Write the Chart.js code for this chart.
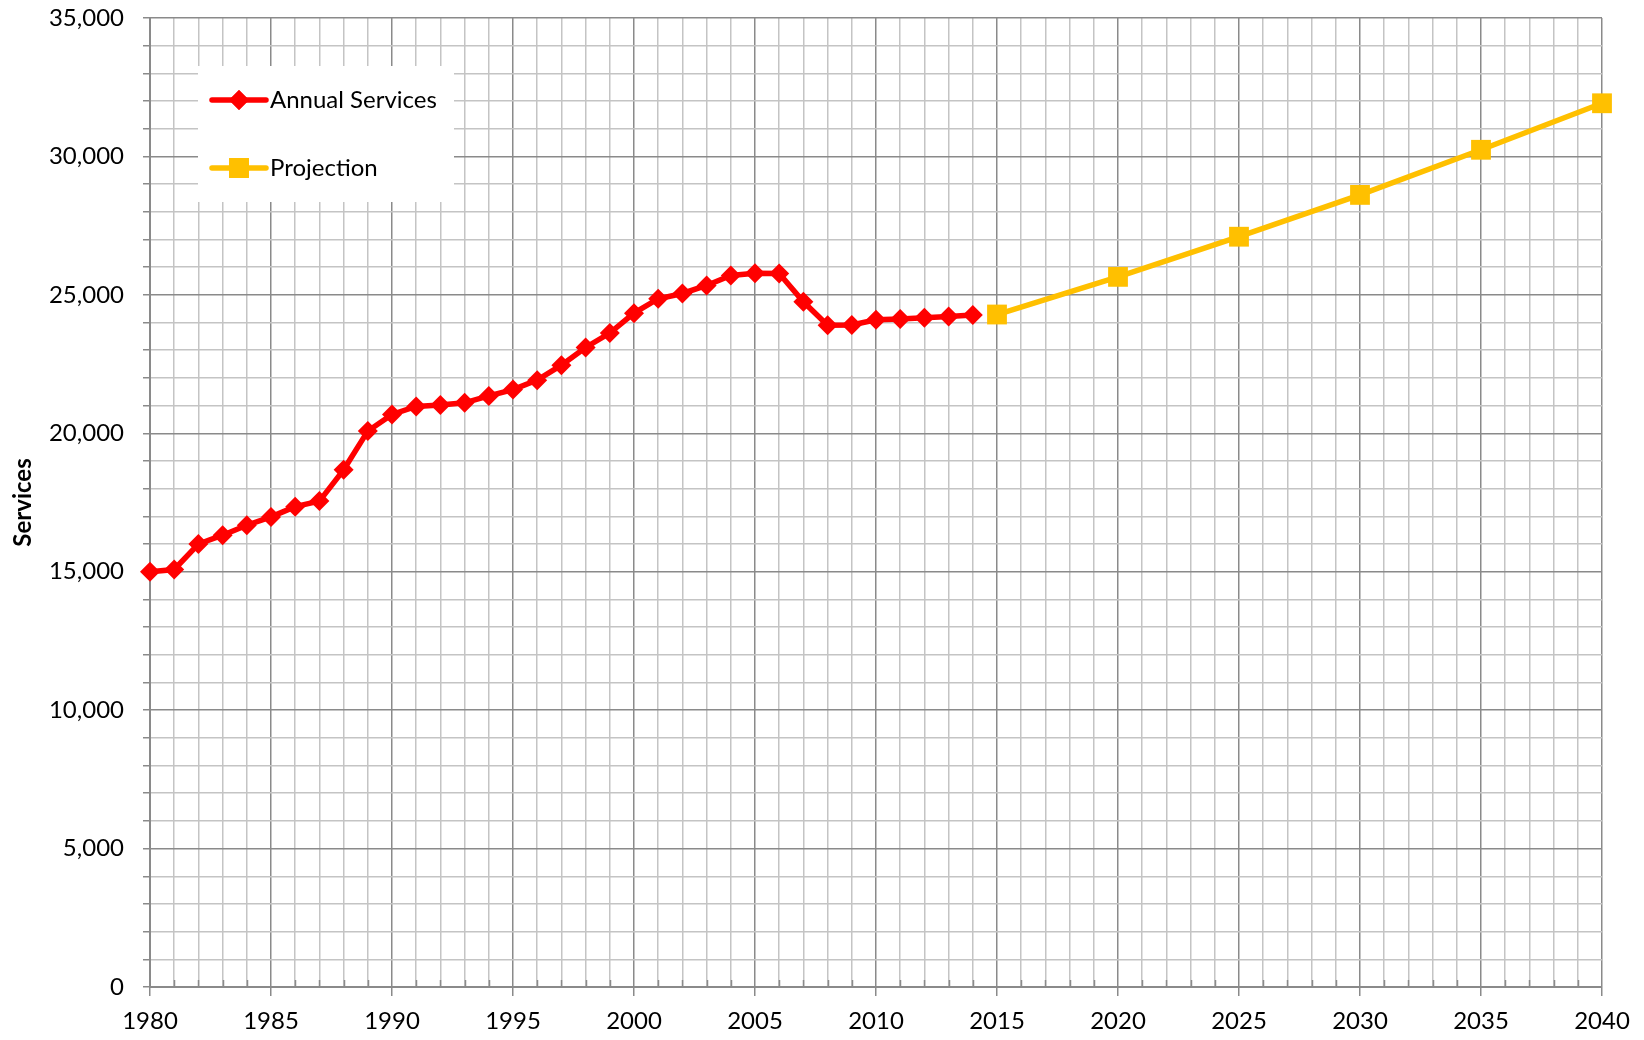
<!DOCTYPE html>
<html>
<head>
<meta charset="utf-8">
<script src="https://cdn.jsdelivr.net/npm/chart.js@4.4.1/dist/chart.umd.min.js"></script>
<style>
    html, body { margin: 0; padding: 0; background: #fff; }
    #wrap { width: 1644px; height: 1040px; }
</style>
</head>
<body>
<div id="wrap"><canvas id="servicesChart" width="1644" height="1040"></canvas></div>
<script>
// Annual services 1980-2014
const serviceYears = [1980, 1981, 1982, 1983, 1984, 1985, 1986, 1987, 1988, 1989,
    1990, 1991, 1992, 1993, 1994, 1995, 1996, 1997, 1998, 1999,
    2000, 2001, 2002, 2003, 2004, 2005, 2006, 2007, 2008, 2009,
    2010, 2011, 2012, 2013, 2014];
const serviceValues = [15000, 15080, 16000, 16320, 16680, 16980, 17350, 17550, 18680, 20080,
    20680, 20970, 21020, 21100, 21350, 21580, 21920, 22460, 23100, 23620,
    24340, 24860, 25050, 25340, 25700, 25780, 25770, 24750, 23900, 23910,
    24100, 24130, 24170, 24220, 24270];

// Projection every 5 years
const projectionYears = [2015, 2020, 2025, 2030, 2035, 2040];
const projectionValues = [24290, 25650, 27100, 28610, 30240, 31920];

// Labelled ticks
const xTickLabels = [1980, 1985, 1990, 1995, 2000, 2005, 2010, 2015, 2020, 2025, 2030, 2035, 2040];
const yTickLabels = [0, 5000, 10000, 15000, 20000, 25000, 30000, 35000];

const FONT = 'Lato, "Open Sans", sans-serif';
const RED = '#ff0000';
const GOLD = '#ffc000';
const MINOR = '#c4c4c4';
const MAJOR = '#8a8a8a';

// Legend box drawn under the lines, plus the little inside ticks on the x axis
const legendAndTicks = {
    id: 'legendAndTicks',
    beforeDatasetsDraw(chart) {
        const ctx = chart.ctx;
        const x = chart.scales.x;
        const area = chart.chartArea;
        ctx.save();

        // minor ticks pointing up into the plot
        ctx.strokeStyle = MAJOR;
        ctx.lineWidth = 1.5;
        x.ticks.forEach(t => {
            if (t.value % 5 === 0) return;
            const px = Math.round(x.getPixelForValue(t.value)) + 0.5;
            ctx.beginPath();
            ctx.moveTo(px, area.bottom);
            ctx.lineTo(px, area.bottom - 7);
            ctx.stroke();
        });

        // legend
        ctx.fillStyle = '#fff';
        ctx.fillRect(198, 66, 256, 136);
        const items = [
            { text: 'Annual Services', color: RED, style: 'rectRot', radius: 10, y: 100 },
            { text: 'Projection', color: GOLD, style: 'rect', radius: 14, y: 168 }
        ];
        items.forEach(it => {
            ctx.strokeStyle = it.color;
            ctx.lineWidth = 5.5;
            ctx.lineCap = 'round';
            ctx.beginPath();
            ctx.moveTo(212, it.y);
            ctx.lineTo(266, it.y);
            ctx.stroke();
            ctx.fillStyle = it.color;
            Chart.helpers.drawPoint(ctx, { pointStyle: it.style, radius: it.radius, borderWidth: 0 }, 239, it.y);
            ctx.fill();
            ctx.fillStyle = '#000';
            ctx.font = '24px ' + FONT;
            ctx.textBaseline = 'middle';
            ctx.textAlign = 'left';
            ctx.fillText(it.text, 270, it.y);
        });
        ctx.restore();
    }
};

const ctx = document.getElementById('servicesChart').getContext('2d');
new Chart(ctx, {
    type: 'line',
    data: {
        datasets: [{
            label: 'Annual Services',
            data: serviceYears.map((yr, i) => ({ x: yr, y: serviceValues[i] })),
            borderColor: RED,
            backgroundColor: RED,
            borderWidth: 5.5,
            pointStyle: 'rectRot',
            pointRadius: 10,
            pointBorderWidth: 0,
            tension: 0,
            clip: false
        }, {
            label: 'Projection',
            data: projectionYears.map((yr, i) => ({ x: yr, y: projectionValues[i] })),
            borderColor: GOLD,
            backgroundColor: GOLD,
            borderWidth: 5.5,
            pointStyle: 'rect',
            pointRadius: 14,
            pointBorderWidth: 0,
            tension: 0,
            clip: false
        }]
    },
    options: {
        responsive: false,
        animation: false,
        layout: { padding: { top: 18, right: 42, bottom: 0, left: 0 } },
        plugins: {
            legend: { display: false },
            tooltip: { enabled: false }
        },
        scales: {
            x: {
                type: 'linear',
                min: 1980,
                max: 2040,
                afterFit: scale => { scale.height = 53; },
                border: { display: true, color: MAJOR, width: 2 },
                grid: {
                    color: c => (c.tick && c.tick.value % 5 === 0) ? MAJOR : MINOR,
                    lineWidth: 1.5,
                    tickLength: 9,
                    tickColor: c => (c.tick && c.tick.value % 5 === 0) ? MAJOR : 'transparent'
                },
                ticks: {
                    stepSize: 1,
                    autoSkip: false,
                    maxRotation: 0,
                    maxTicksLimit: 100,
                    padding: 11,
                    color: '#000',
                    font: { family: FONT, size: 24 },
                    callback: v => xTickLabels.includes(v) ? String(v) : ''
                }
            },
            y: {
                min: 0,
                max: 35000,
                afterFit: scale => {
                    scale.width = 150;
                    scale.paddingTop = 0;
                    scale.paddingBottom = 0;
                },
                border: { display: true, color: MAJOR, width: 2 },
                grid: {
                    color: c => (c.tick && c.tick.value % 5000 === 0) ? MAJOR : MINOR,
                    lineWidth: 1.5,
                    tickLength: 7,
                    tickColor: MAJOR
                },
                ticks: {
                    stepSize: 1000,
                    autoSkip: false,
                    maxTicksLimit: 100,
                    padding: 19,
                    color: '#000',
                    font: { family: FONT, size: 24 },
                    callback: v => yTickLabels.includes(v) ? v.toLocaleString('en-US') : ''
                },
                title: {
                    display: true,
                    text: 'Services',
                    color: '#000',
                    font: { family: FONT, size: 24, weight: 'bold' },
                    padding: { top: 9, bottom: 0 }
                }
            }
        }
    },
    plugins: [legendAndTicks]
});
</script>
</body>
</html>
